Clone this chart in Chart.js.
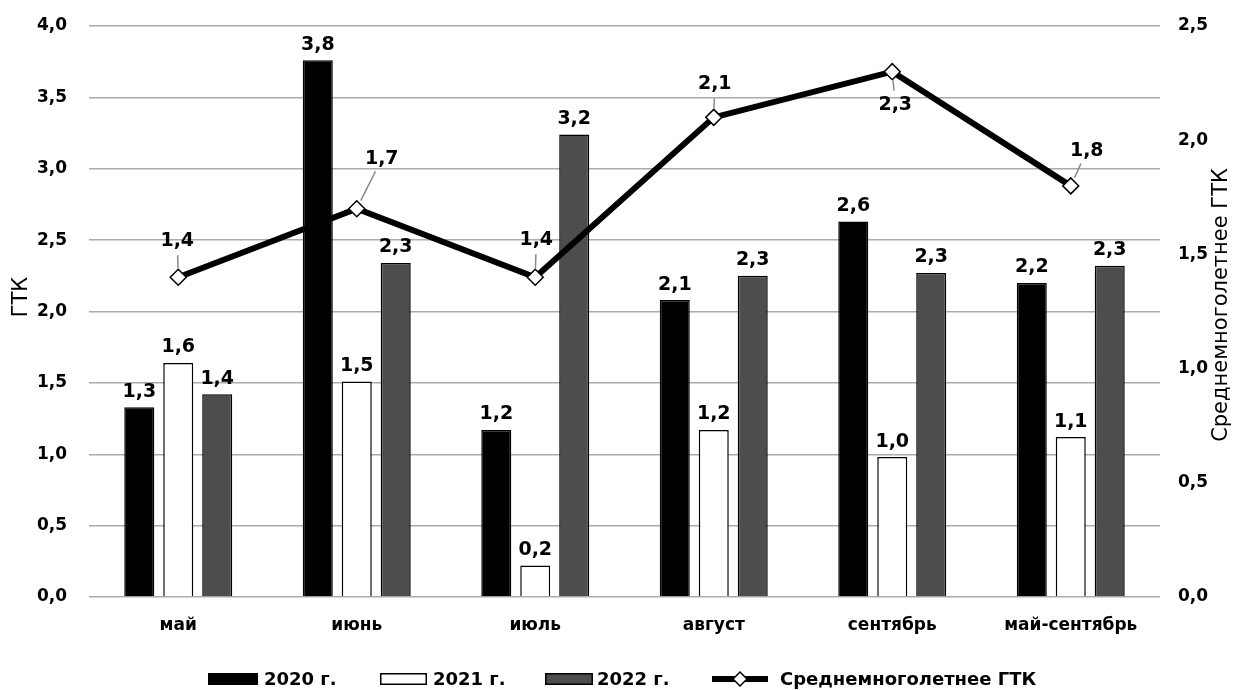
<!DOCTYPE html>
<html><head><meta charset="utf-8">
<script src="https://cdn.jsdelivr.net/npm/chart.js@4"></script>
<style>html,body{margin:0;padding:0;background:#fff;}canvas{display:block;}</style>
</head><body>
<canvas id="c" width="1235" height="690"></canvas>
<script>
const categories = ['май','июнь','июль','август','сентябрь','май-сентябрь'];
const s2020 = [1.33, 3.76, 1.17, 2.08, 2.63, 2.20];
const s2021 = [1.64, 1.51, 0.22, 1.17, 0.98, 1.12];
const s2022 = [1.42, 2.34, 3.24, 2.25, 2.27, 2.32];
const avgGTK = [1.4, 1.7, 1.4, 2.1, 2.3, 1.8];
const seriesNames = ['2020 г.', '2021 г.', '2022 г.', 'Среднемноголетнее ГТК'];
const leftAxisTitle = 'ГТК';
const rightAxisTitle = 'Среднемноголетнее ГТК';

const fmt = v => v.toFixed(1).replace('.', ',');
const FONT = 'DejaVu Sans';

// label offsets for the line labels (dx, dy from point)
const lineLabelOffsets = [[-1,-36],[25,-50],[1,-37],[1,-33],[3,33],[16,-35]];

const labelsPlugin = {
  id: 'labelsPlugin',
  afterDatasetsDraw(chart) {
    const ctx = chart.ctx;
    ctx.save();
    ctx.font = 'bold 19px ' + FONT;
    ctx.fillStyle = '#000';
    ctx.textAlign = 'center';
    [0,1,2].forEach(di => {
      const meta = chart.getDatasetMeta(di);
      const data = chart.data.datasets[di].data;
      meta.data.forEach((el, i) => {
        ctx.textBaseline = 'bottom';
        ctx.fillText(fmt(data[i]), el.x, el.y - 6);
      });
    });
    const meta = chart.getDatasetMeta(3);
    const data = chart.data.datasets[3].data;
    meta.data.forEach((el, i) => {
      const [dx, dy] = lineLabelOffsets[i];
      const lx = el.x + dx, ly = el.y + dy;
      const len = Math.hypot(dx, dy);
      const ux = dx / len, uy = dy / len;
      ctx.strokeStyle = '#8a8a8a';
      ctx.lineWidth = 1.5;
      ctx.beginPath();
      ctx.moveTo(el.x + ux * 9, el.y + uy * 9);
      ctx.lineTo(lx - ux * 14, ly - uy * 14);
      ctx.stroke();
      ctx.textBaseline = 'middle';
      ctx.fillText(fmt(data[i]), lx, ly);
    });
    ctx.restore();
  },
  afterDraw(chart) {
    const ctx = chart.ctx;
    ctx.save();
    ctx.fillStyle = '#000';
    ctx.textAlign = 'center';
    ctx.textBaseline = 'middle';
    ctx.font = '21px ' + FONT;
    ctx.translate(22, 297);
    ctx.rotate(-Math.PI / 2);
    ctx.fillText(leftAxisTitle, 0, 0);
    ctx.setTransform(1,0,0,1,0,0);
    ctx.translate(1222, 305);
    ctx.rotate(-Math.PI / 2);
    ctx.fillText(rightAxisTitle, 0, 0);
    ctx.setTransform(1,0,0,1,0,0);
    const y = 679;
    ctx.font = 'bold 18px ' + FONT;
    ctx.textAlign = 'left';
    const items = [
      {x: 208, w: 50, tx: 264, type: 'box', fill: '#000'},
      {x: 380, w: 47, tx: 433, type: 'box', fill: '#fff'},
      {x: 545, w: 48, tx: 597, type: 'box', fill: '#4d4d4d'},
      {x: 712, w: 56, tx: 780, type: 'line'}
    ];
    items.forEach((it, i) => {
      ctx.lineWidth = 1.5;
      ctx.strokeStyle = '#000';
      if (it.type === 'box') {
        ctx.fillStyle = it.fill;
        ctx.fillRect(it.x, y - 6, it.w, 12);
        ctx.strokeRect(it.x + 0.75, y - 5.25, it.w - 1.5, 10.5);
      } else {
        ctx.lineWidth = 6;
        ctx.beginPath(); ctx.moveTo(it.x, y); ctx.lineTo(it.x + it.w, y); ctx.stroke();
        ctx.lineWidth = 1.5;
        ctx.fillStyle = '#fff';
        const cx = it.x + it.w / 2;
        ctx.beginPath();
        ctx.moveTo(cx, y - 7); ctx.lineTo(cx + 7, y); ctx.lineTo(cx, y + 7); ctx.lineTo(cx - 7, y);
        ctx.closePath(); ctx.fill(); ctx.stroke();
      }
      ctx.fillStyle = '#000';
      ctx.fillText(seriesNames[i], it.tx, y + 1);
    });
    ctx.restore();
  }
};

function fitV(s) { s.width = s.position === 'left' ? 89 : 75; s.paddingTop = 0; s.paddingBottom = 0; }

new Chart(document.getElementById('c'), {
  data: {
    labels: categories,
    datasets: [
      {type: 'bar', label: seriesNames[0], data: s2020, backgroundColor: '#000', borderColor: '#000', borderWidth: 1.5, yAxisID: 'y', order: 1},
      {type: 'bar', label: seriesNames[1], data: s2021, backgroundColor: '#fff', borderColor: '#000', borderWidth: 1.5, yAxisID: 'y', order: 1},
      {type: 'bar', label: seriesNames[2], data: s2022, backgroundColor: '#4d4d4d', borderColor: '#000', borderWidth: 1.5, yAxisID: 'y', order: 1},
      {type: 'line', label: seriesNames[3], data: avgGTK, borderColor: '#000', borderWidth: 6, yAxisID: 'y2', order: 0,
       pointStyle: 'rectRot', pointRadius: 8, pointBackgroundColor: '#fff', pointBorderColor: '#000', pointBorderWidth: 1.5, tension: 0}
    ]
  },
  options: {
    responsive: false,
    devicePixelRatio: 1,
    animation: false,
    layout: {padding: {top: 26, left: 0, right: 0, bottom: 0}},
    plugins: {legend: {display: false}, tooltip: {enabled: false}},
    datasets: {bar: {categoryPercentage: 0.655, barPercentage: 0.77}},
    scales: {
      x: {
        offset: true,
        grid: {display: false, drawTicks: false},
        border: {display: false},
        ticks: {color: '#000', font: {family: FONT, size: 17, weight: 'bold'}, padding: 18, maxRotation: 0, autoSkip: false},
        afterFit(s) { s.height = 93; s.paddingLeft = 0; s.paddingRight = 0; }
      },
      y: {
        position: 'left', min: 0, max: 4,
        ticks: {stepSize: 0.5, color: '#000', font: {family: FONT, size: 17, weight: 'bold'}, padding: 22, callback: v => fmt(v)},
        grid: {color: '#ababab', lineWidth: 1.5, drawTicks: false},
        border: {display: false},
        afterFit: fitV
      },
      y2: {
        position: 'right', min: 0, max: 2.5,
        ticks: {stepSize: 0.5, color: '#000', font: {family: FONT, size: 17, weight: 'bold'}, padding: 18, callback: v => fmt(v)},
        grid: {display: false, drawTicks: false},
        border: {display: false},
        afterFit: fitV
      }
    }
  },
  plugins: [labelsPlugin]
});
</script>
</body></html>
